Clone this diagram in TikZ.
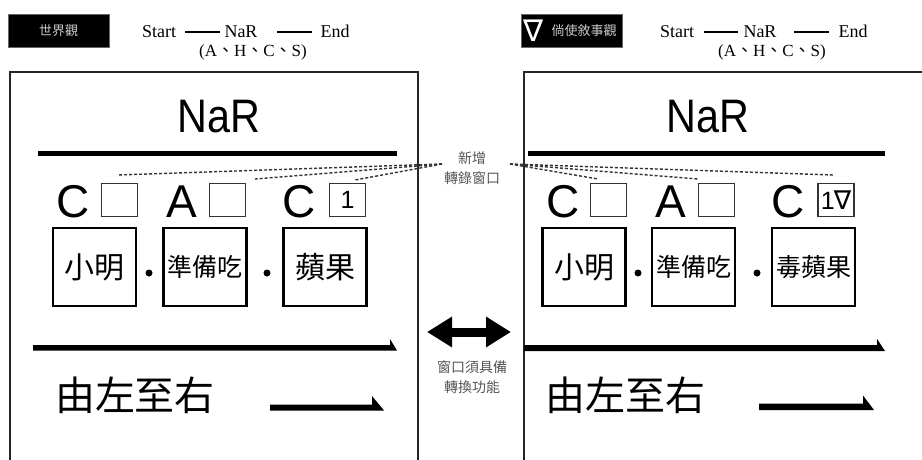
\documentclass[tikz,border=0pt]{standalone}
\usepackage{fontspec}
\setmainfont{Liberation Serif}
\newfontfamily\cjk{Noto Sans CJK TC}
\newfontfamily\hv{Liberation Sans}
\newfontfamily\djv{DejaVu Sans}
\usetikzlibrary{arrows.meta}
\definecolor{grayt}{HTML}{555555}
\definecolor{hdrt}{HTML}{C8C8C8}
\newcommand\dunhao{{\cjk 、}}
\begin{document}
\begin{tikzpicture}[x=1pt,y=-1pt,
  panel/.style={draw=black!85, line width=1.2pt},
  hdrbox/.style={fill=black, draw=black!60, line width=0.8pt},
  hdrtxt/.style={font=\cjk\fontsize{13}{13}\selectfont, text=hdrt, inner sep=0},
  latin/.style={font=\fontsize{18}{18}\selectfont, inner sep=0, anchor=base},
  paren/.style={font=\fontsize{17}{17}\selectfont, inner sep=0},
  bigtitle/.style={font=\hv\fontsize{47}{47}\selectfont, inner sep=0, anchor=base},
  bigletter/.style={font=\hv\fontsize{46}{46}\selectfont, inner sep=0, anchor=base},
  slot/.style={draw=black!80, line width=1.3pt, minimum width=36pt, minimum height=33pt, inner sep=0, font=\hv\fontsize{25}{25}\selectfont},
  word/.style={draw, line width=2.5pt, minimum width=83pt, minimum height=78pt, inner sep=0},
  wtwo/.style={font=\cjk\fontsize{30}{30}\selectfont},
  wthree/.style={font=\cjk\fontsize{25}{25}\selectfont},
  dir/.style={font=\cjk\fontsize{40}{40}\selectfont, inner sep=0},
  note/.style={font=\cjk\fontsize{14}{20}\selectfont, text=grayt, align=center, inner sep=0},
  dashln/.style={dash pattern=on 3pt off 2pt, line width=1.4pt, draw=black!80},
  hline/.style={line width=2pt}
]
\useasboundingbox (0,0) rectangle (922,460);

% ---------- panels ----------
\draw[panel] (10,470) -- (10,72) -- (418,72) -- (418,470);
\draw[panel] (524,470) -- (524,72) -- (930,72);

% ---------- left header ----------
\node[hdrbox, minimum width=101pt, minimum height=33pt, inner sep=0] (hbL) at (58.5,30.5) {};
\node[hdrtxt] (hbLt) at (hbL.center) {世界觀};
\node[latin] (stL) at (159,38) {Start};
\node[latin] (narL) at (241,38) {NaR};
\node[latin] (endL) at (335,38) {End};
\node[paren] (parL) at (253,52) {(A\dunhao H\dunhao C\dunhao S)};
\draw[hline] (185,32) -- (220,32);
\draw[hline] (277,32) -- (312,32);

% ---------- right header ----------
\node[hdrbox, minimum width=101pt, minimum height=33pt, inner sep=0] (hbR) at (571.5,30.5) {};
\node[text=white, font=\djv\fontsize{30}{30}\selectfont, inner sep=0] (nabH) at (534,31) {∇};
\node[hdrtxt] (hbRt) at (584,31) {倘使敘事觀};
\node[latin] (stR) at (677,38) {Start};
\node[latin] (narR) at (760,38) {NaR};
\node[latin] (endR) at (853,38) {End};
\node[paren] (parR) at (772,52) {(A\dunhao H\dunhao C\dunhao S)};
\draw[hline] (704,32) -- (738,32);
\draw[hline] (794,32) -- (829,32);

% ---------- left panel ----------
\node[bigtitle] (tL) at (219,132) {\scalebox{0.88}[1]{NaR}};
\fill (38,151) rectangle (397,156);
\node[bigletter] (c1L) at (73,217) {C};
\node[bigletter] (a1L) at (182,217) {A};
\node[bigletter] (c2L) at (299,217) {C};
\node[slot] (s1L) at (119.5,200) {};
\node[slot] (s2L) at (227.5,200) {};
\node[slot] (s3L) at (347.5,200) {1};
\node[word, wtwo] (w1L) at (94.5,267) {小明};
\node[word, wthree] (w2L) at (205,267) {準備吃};
\node[word, wtwo] (w3L) at (325,267) {蘋果};
\fill (149,273) circle (3.5);
\fill (267,273) circle (3.5);
\fill (33,345) -- (390,345) -- (390,339) -- (397,350.5) -- (33,350.5) -- cycle;
\node[dir] (dL) at (135,395) {由左至右};
\fill (270,404.5) -- (372,404.5) -- (372,396) -- (384,410.5) -- (270,410.5) -- cycle;

% ---------- right panel ----------
\node[bigtitle] (tR) at (708,132) {\scalebox{0.88}[1]{NaR}};
\fill (528,151) rectangle (885,156);
\node[bigletter] (c1R) at (563,217) {C};
\node[bigletter] (a1R) at (671,217) {A};
\node[bigletter] (c2R) at (788,217) {C};
\node[slot] (s1R) at (608.5,200) {};
\node[slot] (s2R) at (716.5,200) {};
\node[slot] (s3R) at (836,200) {1\hspace{-1pt}{\djv\fontsize{26}{26}\selectfont ∇}};
\node[word, wtwo] (w1R) at (584,267) {小明};
\node[word, wthree] (w2R) at (693.5,267) {準備吃};
\node[word, wthree] (w3R) at (813.5,267) {毒蘋果};
\fill (638,273) circle (3.5);
\fill (757,273) circle (3.5);
\fill (524,345) -- (877,345) -- (877,339) -- (885,351) -- (524,351) -- cycle;
\node[dir] (dR) at (625,395) {由左至右};
\fill (759,403.5) -- (863,403.5) -- (863,395.5) -- (874,410) -- (759,410) -- cycle;

% ---------- middle ----------
\node[note] (newwin) at (472,168) {新增\\轉錄窗口};
\coordinate (cvL) at (442,164);
\coordinate (cvR) at (510,164);
\coordinate (e1L) at (118,175);
\coordinate (e2L) at (255,179);
\coordinate (e3L) at (355,180);
\coordinate (e1R) at (598,179);
\coordinate (e2R) at (698,179);
\coordinate (e3R) at (833,175);
\draw[dashln] (cvL) -- (e1L);
\draw[dashln] (cvL) -- (e2L);
\draw[dashln] (cvL) -- (e3L);
\draw[dashln] (cvR) -- (e1R);
\draw[dashln] (cvR) -- (e2R);
\draw[dashln] (cvR) -- (e3R);

\coordinate (daL) at (427,332);
\coordinate (daR) at (511,332);
\draw[line width=9pt, {Triangle[length=25pt,width=29pt]}-{Triangle[length=25pt,width=29pt]}] (daL) -- (daR);
\node[note] (xfer) at (472,377) {窗口須具備\\轉換功能};
\end{tikzpicture}
\end{document}
